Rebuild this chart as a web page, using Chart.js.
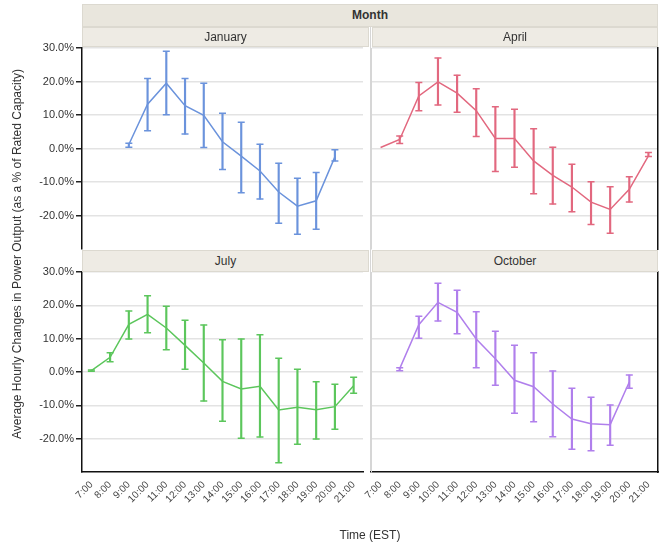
<!DOCTYPE html>
<html>
<head>
<meta charset="utf-8">
<script src="https://cdn.jsdelivr.net/npm/chart.js@4"></script>
<style>
  body { margin: 0; background: #fff; font-family: "Liberation Sans", Arial, sans-serif; }
  #wrap { position: relative; width: 665px; height: 545px; overflow: hidden; }
  canvas { position: absolute; }
  .hdr { position: absolute; background: #eeebe4; border: 1px solid #dcd9d0; box-sizing: border-box;
         font-size: 12px; color: #333; text-align: center; }
  #month { left: 82px; top: 4px; width: 576px; height: 23px; line-height: 21px; font-weight: bold; background: #e9e6dd; }
  #sep { position: absolute; left: 370px; top: 27px; width: 1px; height: 445px; background: #d6d6d6; }
  #ytitle { position: absolute; left: -203px; top: 247px; width: 440px; height: 14px; line-height: 14px; text-align: center;
            font-size: 12px; color: #333; transform: rotate(-90deg); }
  #xtitle { position: absolute; left: 270px; top: 528px; width: 200px; text-align: center; font-size: 12px; color: #333; }
</style>
</head>
<body>
<div id="wrap">
  <div id="sep"></div>
  <canvas id="jan" width="372" height="221" style="left:0px;top:38px"></canvas>
  <canvas id="apr" width="325" height="221" style="left:340px;top:38px"></canvas>
  <canvas id="jul" width="372" height="283" style="left:0px;top:262px"></canvas>
  <canvas id="oct" width="325" height="283" style="left:340px;top:262px"></canvas>
  <div class="hdr" id="month">Month</div>
  <div class="hdr" style="left:82px;top:27px;width:287px;height:20px;line-height:18px">January</div>
  <div class="hdr" style="left:372px;top:27px;width:286px;height:20px;line-height:18px">April</div>
  <div class="hdr" style="left:82px;top:250px;width:287px;height:22px;line-height:20px">July</div>
  <div class="hdr" style="left:372px;top:250px;width:286px;height:22px;line-height:20px">October</div>
  <div id="ytitle">Average Hourly Changes in Power Output (as a % of Rated Capacity)</div>
  <div id="xtitle">Time (EST)</div>
</div>
<script>
// hours on the x axis
const hours = ['7:00', '8:00', '9:00', '10:00', '11:00', '12:00', '13:00', '14:00',
               '15:00', '16:00', '17:00', '18:00', '19:00', '20:00', '21:00'];

// January
const janMean = [null, null, 1.2, 13.2, 19.5, 12.8, 9.9, 2.0, -2.3, -6.7, -13.0, -17.2, -15.6, -2.5, null];
const janHigh = [null, null, 1.6, 20.9, 29.0, 20.9, 19.5, 10.5, 7.8, 1.3, -4.4, -8.9, -7.2, -0.4, null];
const janLow  = [null, null, 0.4, 5.3, 10.1, 4.3, 0.3, -6.3, -13.2, -15.1, -22.3, -25.6, -24.1, -3.7, null];

// April
const aprMean = [0.3, 2.7, 15.7, 19.9, 16.5, 11.3, 3.0, 3.0, -3.7, -8.0, -11.5, -16.0, -18.2, -12.2, -2.2];
const aprHigh = [null, 3.7, 19.7, 27.0, 21.9, 17.8, 12.5, 11.7, 5.9, 0.4, -4.7, -9.9, -11.4, -8.4, -1.2];
const aprLow  = [null, 1.5, 11.3, 13.0, 10.8, 3.6, -6.9, -5.6, -13.5, -16.6, -18.9, -22.7, -25.3, -16.0, -2.4];

// July
const julMean = [0.4, 4.4, 14.3, 17.3, 13.2, 8.0, 2.7, -2.8, -5.1, -4.3, -11.4, -10.6, -11.3, -10.4, -4.1];
const julHigh = [0.6, 5.8, 18.3, 22.9, 19.7, 15.5, 14.1, 9.7, 9.9, 11.2, 4.1, 0.8, -2.9, -3.7, -1.6];
const julLow  = [0.2, 3.1, 9.9, 11.8, 6.7, 0.8, -8.7, -14.8, -19.9, -19.5, -27.2, -21.7, -20.1, -17.2, -6.4];

// October
const octMean = [null, 1.0, 14.2, 20.9, 17.9, 9.9, 4.0, -2.5, -4.4, -9.6, -14.1, -15.5, -15.8, -3.0, null];
const octHigh = [null, 1.3, 16.7, 26.6, 24.5, 18.1, 12.2, 8.0, 5.8, 0.3, -4.9, -7.6, -9.9, -0.9, null];
const octLow  = [null, 0.4, 10.1, 15.3, 11.5, 1.3, -4.0, -12.4, -14.9, -19.4, -23.2, -23.6, -22.0, -4.9, null];

const yTicks = [30, 20, 10, 0, -10, -20];

function makePanel(id, means, highs, lows, color, isLeft, isBottom) {
    const ranges = hours.map((h, i) => highs[i] == null ? null : [lows[i], highs[i]]);

    const config = {
        data: {
            labels: hours,
            datasets: [
                { type: 'line', data: means, borderColor: color, borderWidth: 1.5,
                  pointRadius: 0, tension: 0, order: 1 },
                { type: 'bar', data: ranges, backgroundColor: color, barThickness: 1.5,
                  borderWidth: 0, order: 2 },
                { type: 'line', data: highs, showLine: false, pointStyle: 'line', pointRadius: 3.5,
                  pointBorderColor: color, pointBorderWidth: 1.5, order: 3 },
                { type: 'line', data: lows, showLine: false, pointStyle: 'line', pointRadius: 3.5,
                  pointBorderColor: color, pointBorderWidth: 1.5, order: 4 }
            ]
        },
        options: {
            responsive: false,
            animation: false,
            events: [],
            layout: { padding: { top: 10, bottom: isBottom ? 0 : 10, left: 0, right: isLeft ? 2 : 0 } },
            plugins: { legend: { display: false }, tooltip: { enabled: false } },
            scales: {
                x: {
                    display: isBottom,
                    offset: true,
                    grid: { display: false, drawTicks: false },
                    border: { display: true, color: '#111', width: 1.5 },
                    ticks: { autoSkip: false, minRotation: 45, maxRotation: 45, padding: 7,
                             color: '#444', font: { family: 'Liberation Sans', size: 10 } },
                    afterFit: s => { if (isBottom) s.height = 73; }
                },
                y: {
                    min: -30, max: 30,
                    afterBuildTicks: s => { s.ticks = yTicks.map(v => ({ value: v })); },
                    grid: { color: '#e3e3e3', lineWidth: 1.5, tickColor: '#222',
                            tickLength: 6, drawTicks: isLeft },
                    border: { display: true, color: isLeft ? '#111' : '#d6d6d6', width: isLeft ? 1.5 : 1 },
                    ticks: { display: isLeft, padding: 2, color: '#333',
                             font: { family: 'Liberation Sans', size: 11 },
                             callback: v => v.toFixed(1) + '%' },
                    afterFit: s => { s.width = isLeft ? 82 : 31; }
                },
                y2: {
                    display: !isLeft,
                    position: 'right',
                    min: -30, max: 30,
                    grid: { display: true, drawOnChartArea: false, drawTicks: false },
                    border: { display: true, color: '#111', width: 1.5 },
                    ticks: { display: false },
                    afterFit: s => { s.width = 7; }
                }
            }
        }
    };
    return new Chart(document.getElementById(id), config);
}

makePanel('jan', janMean, janHigh, janLow, '#6b93dc', true, false);
makePanel('apr', aprMean, aprHigh, aprLow, '#e2687f', false, false);
makePanel('jul', julMean, julHigh, julLow, '#5cc65c', true, true);
makePanel('oct', octMean, octHigh, octLow, '#b07fec', false, true);
</script>
</body>
</html>
